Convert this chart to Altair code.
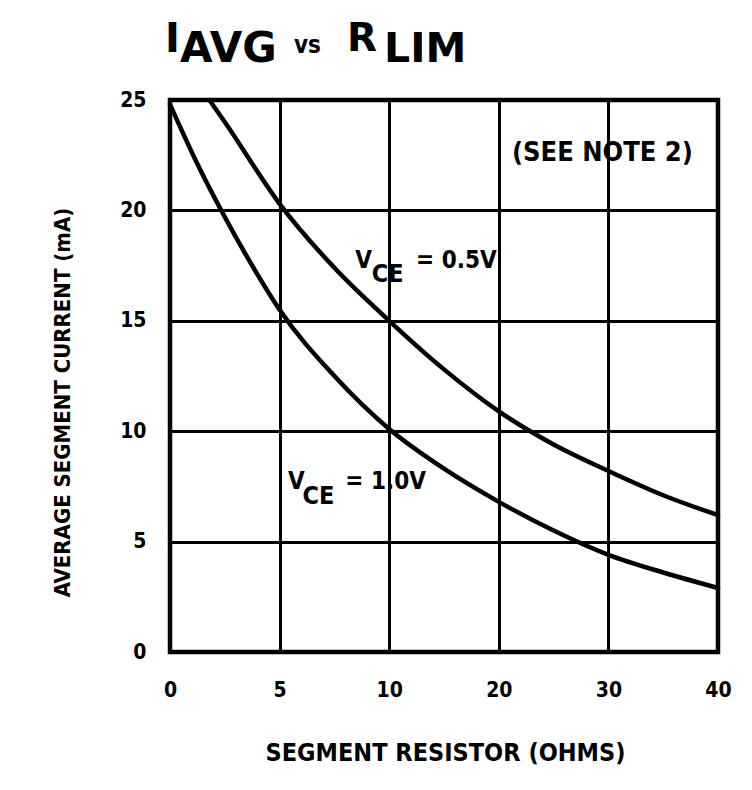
import json
import altair as alt
import pandas as pd

# ---- data ----
x_ticks = [0, 1, 2, 3, 4, 5]
x_tick_labels = ["0", "5", "10", "20", "30", "40"]   # ohms, equally spaced on the chart
y_ticks = [0, 5, 10, 15, 20, 25]

upper_x = [0.36, 0.5, 1.0, 1.5, 2.0, 2.5, 3.0, 3.5, 4.0, 4.5, 5.0]
upper_y = [25.0, 24.0, 20.3, 17.4, 15.0, 12.8, 10.9, 9.4, 8.2, 7.1, 6.2]
lower_x = [0.0, 0.25, 0.5, 0.75, 1.0, 1.5, 2.0, 2.5, 3.0, 3.5, 4.0, 4.5, 5.0]
lower_y = [24.8, 22.1, 19.7, 17.5, 15.5, 12.5, 10.1, 8.3, 6.8, 5.5, 4.4, 3.6, 2.9]

series_names = ["VCE = 0.5V", "VCE = 1.0V"]

FONT = "DejaVu Sans Condensed, Liberation Sans Narrow, DejaVu Sans, sans-serif"
WIDE = "DejaVu Sans, Liberation Sans, sans-serif"

df = pd.concat([
    pd.DataFrame({"x": upper_x, "y": upper_y, "s": series_names[0]}),
    pd.DataFrame({"x": lower_x, "y": lower_y, "s": series_names[1]}),
])

label_expr = json.dumps(x_tick_labels) + "[datum.value]"

xscale = alt.Scale(domain=[0, 5], nice=False, zero=False)
yscale = alt.Scale(domain=[0, 25], nice=False)

lines = alt.Chart(df).mark_line(
    color="black", strokeWidth=4.5, interpolate="monotone", strokeCap="round"
).encode(
    x=alt.X("x:Q", scale=xscale, axis=alt.Axis(
        values=x_ticks, labelExpr=label_expr, labelFlush=False,
        title="SEGMENT RESISTOR (OHMS)", titleX=275, titleY=100,
        titleBaseline="middle")),
    y=alt.Y("y:Q", scale=yscale, axis=alt.Axis(
        values=y_ticks, title="AVERAGE SEGMENT CURRENT (mA)",
        titleX=-108, titleY=302, titleAlign="center", titleBaseline="middle")),
    detail="s:N",
)

one = pd.DataFrame({"a": [0]})


def note(text, x, y, size=24):
    return alt.Chart(one).mark_text(
        text=text, font=FONT, fontWeight="bold", fontSize=size,
        align="left", baseline="middle", color="black"
    ).encode(x=alt.datum(x), y=alt.datum(y))


def ttl(text, px, py, size, font=WIDE):
    return alt.Chart(one).mark_text(
        text=text, font=font, fontWeight="bold", fontSize=size,
        align="left", baseline="alphabetic", color="black"
    ).encode(x=alt.value(px - 170), y=alt.value(py - 100))


notes = [
    note("V", 1.69, 17.7, 24),
    note("CE", 1.84, 17.1, 25),
    note("= 0.5V", 2.245, 17.7, 24),
    note("V", 1.077, 7.7, 24),
    note("CE", 1.21, 7.05, 25),
    note("= 1.0V", 1.60, 7.7, 24),
    note("(SEE NOTE 2)", 3.12, 22.6, 27),
]

title = [
    ttl("I", 165, 52, 40),
    ttl("AVG", 180, 62, 42),
    ttl("vs", 294, 53, 24, FONT),
    ttl("R", 347, 51, 39),
    ttl("LIM", 384, 62, 41),
]

chart = alt.layer(lines, *notes, *title).properties(
    width=548, height=552,
    autosize=alt.AutoSizeParams(type="none"),
    padding={"left": 162, "top": 92, "right": 26, "bottom": 120},
    background="white",
).configure_view(
    stroke="black", strokeWidth=4.5
).configure_axis(
    grid=True, gridColor="black", gridWidth=3, gridOpacity=1,
    domain=False, ticks=False,
    labelFont=FONT, labelFontWeight="bold", labelFontSize=21, labelColor="black",
    titleFont=FONT, titleFontWeight="bold", titleColor="black",
).configure_axisX(
    labelPadding=27, titleFontSize=25
).configure_axisY(
    labelPadding=24, titleFontSize=22
)

chart.save("out.html", embed_options={"renderer": "svg", "actions": False})
